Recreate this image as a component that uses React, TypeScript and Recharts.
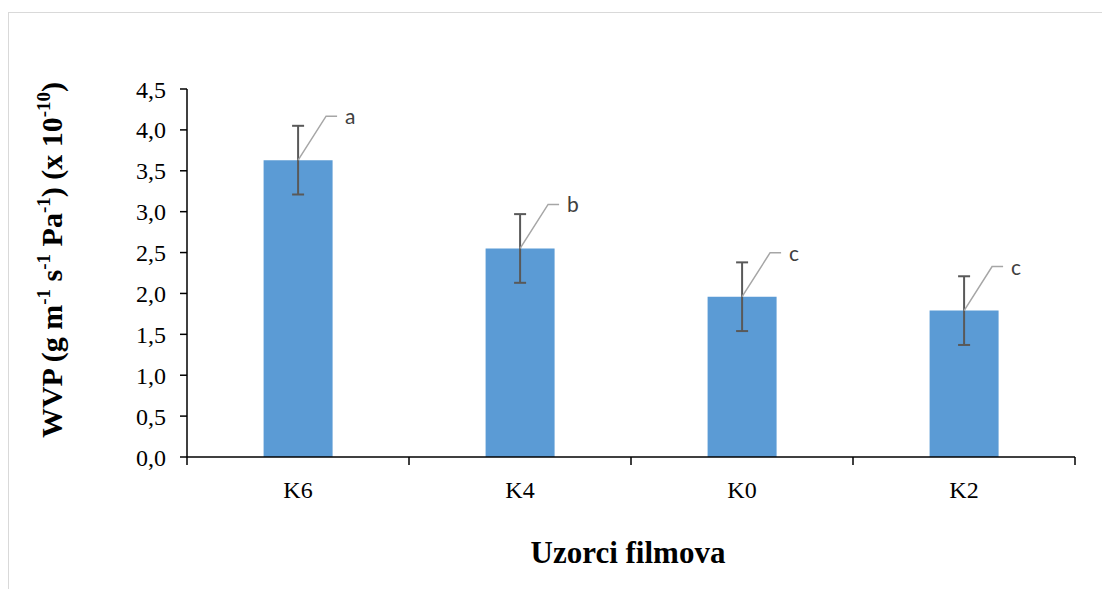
import React from 'react';
import { BarChart, Bar, XAxis, YAxis, ErrorBar, LabelList } from 'recharts';

const categories = ['K6', 'K4', 'K0', 'K2'];
const wvpValues = [3.63, 2.55, 1.96, 1.79];
const sdValues = [0.42, 0.42, 0.42, 0.42];
const letters = ['a', 'b', 'c', 'c'];
const yTicks = [0, 0.5, 1, 1.5, 2, 2.5, 3, 3.5, 4, 4.5];

const data = categories.map((name, i) => ({
  name,
  value: wvpValues[i],
  err: sdValues[i],
  letter: letters[i],
}));

const CHART_W = 1102;
const CHART_H = 589;
const MARGIN = { top: 89, right: 27, bottom: 0, left: 0 };
const Y_AXIS_W = 187;
const X_AXIS_H = 132;
const AXIS_Y = CHART_H - MARGIN.bottom - X_AXIS_H;
const HALF_BAND = (CHART_W - Y_AXIS_W - MARGIN.left - MARGIN.right) / categories.length / 2;

const SERIF = '"Liberation Serif", "Times New Roman", serif';

const XTick = (props: any) => {
  const { x, payload, index } = props;
  return (
    <g>
      <line x1={x - HALF_BAND} y1={AXIS_Y} x2={x - HALF_BAND} y2={AXIS_Y + 8} stroke="#000" strokeWidth={1.5} />
      {index === categories.length - 1 && (
        <line x1={x + HALF_BAND} y1={AXIS_Y} x2={x + HALF_BAND} y2={AXIS_Y + 8} stroke="#000" strokeWidth={1.5} />
      )}
      <text x={x} y={AXIS_Y + 41} textAnchor="middle" fontFamily={SERIF} fontSize={24} fill="#000">
        {payload.value}
      </text>
    </g>
  );
};

const LetterLabel = (props: any) => {
  const { x, y, width, value } = props;
  const cx = x + width / 2;
  const ly = y - 44;
  return (
    <g>
      <polyline
        points={`${cx},${y} ${cx + 28},${ly} ${cx + 39},${ly}`}
        fill="none"
        stroke="#a6a6a6"
        strokeWidth={1.5}
      />
      <text x={cx + 47} y={ly + 8} fontFamily='Lato, "Open Sans", sans-serif' fontSize={21} fill="#404040">
        {value}
      </text>
    </g>
  );
};

const SUP_DY = 12;
const SUP_SIZE = 19;

const YLabel = (props: any) => {
  const vb = props.viewBox || { x: 0, y: MARGIN.top, width: Y_AXIS_W, height: AXIS_Y - MARGIN.top };
  const lx = vb.x + 62;
  const ly = vb.y + vb.height / 2 - 13;
  return (
    <text
      x={lx}
      y={ly}
      transform={`rotate(-90, ${lx}, ${ly})`}
      textAnchor="middle"
      fontFamily={SERIF}
      fontWeight="bold"
      fontSize={30}
      fill="#000"
    >
      <tspan>WVP (g m</tspan>
      <tspan dy={-SUP_DY} fontSize={SUP_SIZE}>-1</tspan>
      <tspan dy={SUP_DY}> s</tspan>
      <tspan dy={-SUP_DY} fontSize={SUP_SIZE}>-1</tspan>
      <tspan dy={SUP_DY}> Pa</tspan>
      <tspan dy={-SUP_DY} fontSize={SUP_SIZE}>-1</tspan>
      <tspan dy={SUP_DY}>) (x 10</tspan>
      <tspan dy={-SUP_DY} fontSize={SUP_SIZE}>-10</tspan>
      <tspan dy={SUP_DY}>)</tspan>
    </text>
  );
};

const XLabel = () => (
  <text
    x={628}
    y={563}
    textAnchor="middle"
    fontFamily={SERIF}
    fontWeight="bold"
    fontSize={31}
    fill="#000"
  >
    Uzorci filmova
  </text>
);

export default function App() {
  return (
    <div
      style={{
        position: 'absolute',
        left: 0,
        top: 0,
        width: CHART_W,
        height: CHART_H,
        overflow: 'hidden',
        background: '#fff',
      }}
    >
      <div
        style={{
          position: 'absolute',
          left: 8,
          top: 12,
          width: 1200,
          height: 700,
          borderLeft: '1.5px solid #d9d9d9',
          borderTop: '1.5px solid #d9d9d9',
        }}
      />
      <div style={{ position: 'absolute', left: 0, top: 0 }}>
        <BarChart width={CHART_W} height={CHART_H} data={data} margin={MARGIN} barCategoryGap="34.5%">
          <XAxis
            dataKey="name"
            height={X_AXIS_H}
            axisLine={{ stroke: '#000', strokeWidth: 1.5 }}
            tickLine={false}
            tick={<XTick />}
            interval={0}
            label={<XLabel />}
          />
          <YAxis
            width={Y_AXIS_W}
            domain={[0, 4.5]}
            ticks={yTicks}
            interval={0}
            tickFormatter={(v: number) => v.toFixed(1).replace('.', ',')}
            axisLine={{ stroke: '#000', strokeWidth: 1.5 }}
            tickLine={{ stroke: '#000', strokeWidth: 1.5 }}
            tickSize={7}
            tickMargin={14}
            tick={{ fill: '#000', fontSize: 24, fontFamily: SERIF }}
            label={<YLabel />}
          />
          <Bar dataKey="value" fill="#5b9bd5" isAnimationActive={false}>
            <ErrorBar dataKey="err" width={6} stroke="#595959" strokeWidth={2} direction="y" />
            <LabelList dataKey="letter" content={<LetterLabel />} />
          </Bar>
        </BarChart>
      </div>
    </div>
  );
}
